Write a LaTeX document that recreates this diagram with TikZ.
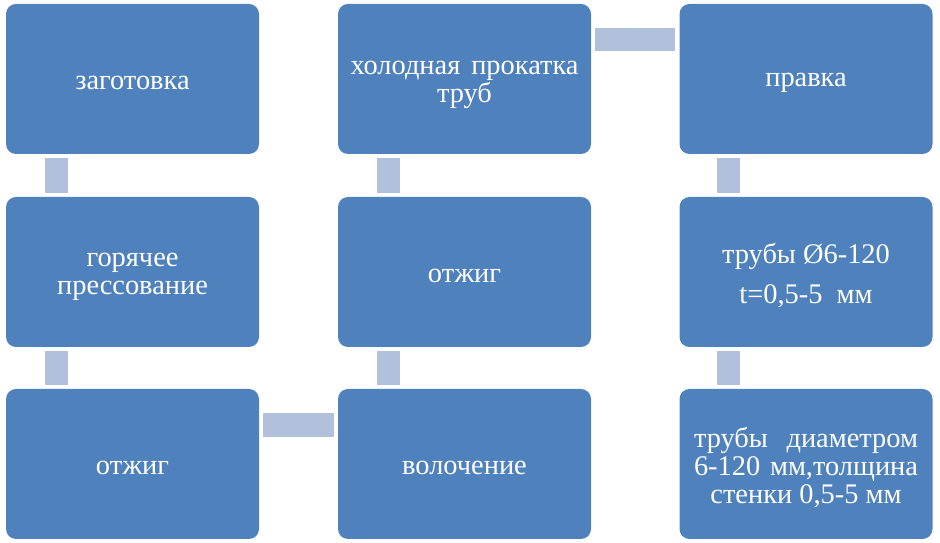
\documentclass[tikz,border=0pt]{standalone}
\usepackage{fontspec}
\setmainfont{Liberation Serif}
\newfontfamily\ruserif{Liberation Serif}
\usetikzlibrary{calc}
\definecolor{boxblue}{HTML}{4F81BD}
\definecolor{connblue}{HTML}{B2C1DB}
\begin{document}
\begin{tikzpicture}[x=1pt,y=1pt,
  stepbox/.style={rectangle, rounded corners=10pt, fill=boxblue, minimum width=253pt, minimum height=150pt, inner sep=0pt},
  txt/.style={inner sep=0pt, text=white, font=\ruserif\fontsize{28.4}{28}\selectfont, align=center},
  conn/.style={fill=connblue}]
\useasboundingbox (0,0) rectangle (940,543);
\node[stepbox] (a) at (132.5,464) {};
\node[stepbox] (b) at (132.5,271) {};
\node[stepbox] (c) at (132.5,79) {};
\node[stepbox] (d) at (464.5,79) {};
\node[stepbox] (e) at (464.5,271) {};
\node[stepbox] (f) at (464.5,464) {};
\node[stepbox] (g) at (806,464) {};
\node[stepbox] (h) at (806,271) {};
\node[stepbox] (i) at (806,79) {};
\node[txt] (ta) at ($(a.center)+(0,-4)$) {заготовка};
\node[txt] (tb) at ($(b.center)+(0,-5)$) {горячее\\прессование};
\node[txt] (tc) at ($(c.center)+(0,-4)$) {отжиг};
\node[txt] (td) at ($(d.center)+(0,-4)$) {волочение};
\node[txt] (te) at ($(e.center)+(0,-4)$) {отжиг};
\node[txt] (tf) at ($(f.center)+(0,-6)$) {\makebox[228pt][s]{холодная прокатка}\\труб};
\node[txt] (tg) at ($(g.center)+(0,-4)$) {правка};
\node[txt] (th) at ($(h.center)+(0,-4)$) {трубы Ø6-120\\[12pt]t=0,5-5~~мм};
\node[txt] (ti) at ($(i.center)+(0,-4)$) {\makebox[224pt][s]{трубы диаметром}\\\makebox[224pt][s]{6-120 мм,толщина}\\стенки 0,5-5 мм};
\fill[conn] ($(a.south west)+(39,-4)$) rectangle ($(b.north west)+(62,4)$);
\fill[conn] ($(b.south west)+(39,-4)$) rectangle ($(c.north west)+(62,4)$);
\fill[conn] ($(c.north east)+(4,-24)$) rectangle ($(d.north west)+(-4,-48)$);
\fill[conn] ($(d.north west)+(39,4)$) rectangle ($(e.south west)+(62,-4)$);
\fill[conn] ($(e.north west)+(39,4)$) rectangle ($(f.south west)+(62,-4)$);
\fill[conn] ($(f.north east)+(4,-24)$) rectangle ($(g.north west)+(-4,-47)$);
\fill[conn] ($(g.south west)+(38,-4)$) rectangle ($(h.north west)+(61,4)$);
\fill[conn] ($(h.south west)+(38,-4)$) rectangle ($(i.north west)+(61,4)$);
\end{tikzpicture}
\end{document}
